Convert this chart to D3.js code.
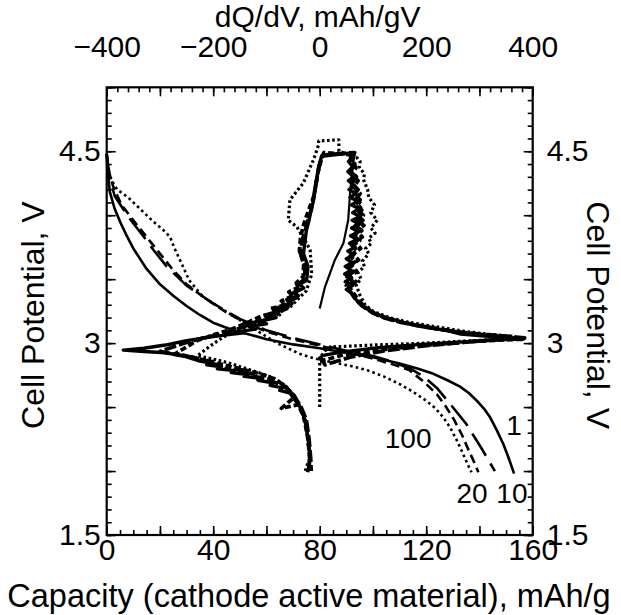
<!DOCTYPE html>
<html><head><meta charset="utf-8">
<script src="https://cdn.jsdelivr.net/npm/d3@7"></script>
<style>body{margin:0;background:#fff}svg{display:block}text{font-family:"Liberation Sans",Arial,sans-serif;fill:#000}</style>
</head><body>
<svg id="c" width="621" height="615"></svg>
<script>
// ---- tick labels ----
const capTicks = [0, 40, 80, 120, 160];
const dqTicks = [-400, -200, 0, 200, 400];
const vTicks = [1.5, 3, 4.5];
const rateLabels = ["1", "10", "20", "100"];
const rateLabelPos = [[153, 2.28], [152.2, 1.75], [137.2, 1.75], [113.2, 2.18]]; // [capacity, V] of label baseline centre

// ---- discharge curves: [capacity mAh/g, cell potential V] ----
const dis1 = [[0,4.48],[0.3,4.35],[1.2,4.18],[3,4.05],[5,3.95],[7.5,3.84],[10,3.74],[15,3.58],[20,3.46],[25,3.37],[30,3.29],[35,3.22],[40,3.16],[47.5,3.1],[55,3.06],[60,3.03],[70,2.99],[80,2.96],[90,2.925],[100,2.89],[110,2.84],[117,2.8],[122.7,2.76],[128,2.71],[132.7,2.66],[136,2.61],[139,2.55],[142,2.48],[144,2.42],[146.5,2.32],[149,2.21],[151,2.1],[153,1.98]];
const dis10 = [[0,4.48],[1,4.3],[3,4.15],[8,3.99],[14,3.83],[17.5,3.73],[22.5,3.6],[30,3.45],[40,3.31],[50,3.19],[60,3.1],[70,3.04],[80,2.99],[90,2.94],[100,2.9],[108,2.85],[114,2.8],[119,2.74],[124,2.65],[128,2.55],[131.5,2.46],[135,2.37],[138,2.27],[141,2.17],[143.5,2.08],[145.8,2.0]];
const dis20 = [[0,4.48],[1,4.33],[2.5,4.22],[5.6,4.08],[10,3.96],[15,3.83],[20,3.7],[25,3.57],[30,3.46],[37,3.35],[45,3.24],[52,3.16],[60,3.09],[70,3.03],[80,2.98],[90,2.93],[100,2.88],[108,2.83],[113.6,2.79],[119,2.7],[124,2.6],[127.5,2.5],[130.5,2.4],[133.5,2.28],[136,2.16],[138,2.07],[139.6,1.99]];
const dis100 = [[0,4.48],[0.5,4.36],[1.9,4.27],[4,4.2],[8,4.14],[12,4.06],[17.5,3.95],[21,3.89],[23.8,3.83],[25.5,3.74],[27.5,3.65],[31,3.49],[36.3,3.36],[43.8,3.26],[50,3.18],[57,3.09],[64,3.0],[72,2.92],[78,2.88],[85,2.85],[92,2.82],[97.6,2.79],[104,2.74],[110,2.68],[115,2.62],[120,2.55],[123.5,2.49],[126.4,2.42],[129,2.34],[131.5,2.24],[133.5,2.15],[135,2.08],[137,1.99]];

// ---- dQ/dV curves: [dQ/dV mAh/gV, cell potential V] ----
const dqThin1 = [[0,3.27],[10,3.44],[28.5,3.65],[44.5,3.78],[53.5,3.96],[57.5,4.2],[62.5,4.4],[66,4.48]];
const dq1 = [[2,2.9],[40,2.93],[110,2.965],[190,2.99],[270,3.01],[330,3.025],[383,3.033],[350,3.045],[310,3.055],[265,3.07],[238,3.1],[205,3.12],[178,3.14],[150,3.17],[125,3.2],[105,3.23],[88,3.27],[75,3.31],[66,3.35],[60,3.39],[50,3.42],[62,3.45],[48,3.48],[60,3.51],[47,3.54],[59,3.57],[48,3.6],[61,3.63],[50,3.66],[64,3.69],[53,3.72],[67,3.75],[56,3.78],[70,3.81],[58,3.84],[73,3.87],[60,3.9],[75,3.93],[61,3.96],[76,3.99],[62,4.02],[74,4.05],[60,4.08],[71,4.11],[57,4.14],[68,4.17],[55,4.2],[66,4.23],[54,4.27],[64,4.3],[53,4.34],[62,4.38],[54,4.42],[63,4.46],[66,4.49],[3.5,4.46],[-2,4.38],[-5,4.3],[-9,4.2],[-12.5,4.1],[-17,4.03],[-20,3.96],[-25,3.88],[-27.5,3.8],[-30.5,3.7],[-22,3.6],[-24.5,3.49],[-38,3.46],[-30,3.43],[-48,3.4],[-40,3.37],[-62,3.34],[-52,3.31],[-78,3.28],[-66,3.26],[-94,3.23],[-82,3.2],[-112,3.17],[-100,3.15],[-132,3.13],[-120,3.11],[-152,3.09],[-142,3.08],[-175,3.065],[-210,3.045],[-250,3.02],[-290,2.985],[-330,2.96],[-369,2.945],[-330,2.935],[-290,2.925],[-256,2.9],[-225,2.86],[-205,2.845],[-212,2.83],[-185,2.815],[-192,2.8],[-160,2.785],[-166,2.77],[-136,2.755],[-142,2.74],[-110,2.725],[-116,2.71],[-88,2.69],[-93,2.67],[-70,2.65],[-75,2.63],[-56,2.61],[-37,2.5],[-27.5,2.4],[-21.5,2.24],[-18,2.1],[-22.5,1.99]];
const dq10 = [[0,2.9],[10,2.83],[57,2.89],[120,2.94],[200,2.98],[280,3.01],[340,3.03],[385,3.04],[350,3.055],[300,3.07],[255,3.09],[215,3.115],[180,3.14],[150,3.165],[120,3.2],[98,3.24],[80,3.29],[68,3.34],[58,3.4],[50,3.45],[63,3.48],[51,3.52],[64,3.56],[54,3.6],[68,3.64],[57,3.68],[71,3.72],[61,3.76],[75,3.8],[64,3.84],[79,3.88],[67,3.92],[81,3.96],[69,4.0],[79,4.04],[66,4.08],[76,4.12],[63,4.16],[72,4.2],[60,4.25],[69,4.3],[58,4.35],[66,4.4],[58,4.45],[62,4.49],[5,4.47],[0,4.4],[-4,4.32],[-8,4.22],[-12,4.12],[-16,4.04],[-22,3.96],[-27,3.88],[-33,3.8],[-36,3.7],[-27,3.6],[-29,3.5],[-42,3.45],[-36,3.42],[-54,3.38],[-46,3.35],[-68,3.31],[-60,3.28],[-86,3.25],[-76,3.22],[-104,3.2],[-128,3.15],[-155,3.11],[-185,3.07],[-220,3.04],[-255,3.0],[-300,2.935],[-270,2.91],[-240,2.89],[-215,2.865],[-195,2.85],[-200,2.835],[-170,2.82],[-176,2.8],[-146,2.79],[-150,2.77],[-120,2.76],[-124,2.74],[-98,2.72],[-90,2.7],[-68,2.67],[-50,2.6],[-35,2.5],[-25,2.4],[-20,2.25],[-17,2.1],[-16,2.0]];
const dq20 = [[0,2.86],[20,2.88],[45,2.91],[120,2.95],[200,2.985],[280,3.01],[340,3.025],[380,3.03],[345,3.05],[305,3.065],[262,3.085],[225,3.11],[190,3.135],[158,3.16],[128,3.19],[104,3.23],[86,3.28],[74,3.33],[64,3.39],[55,3.44],[68,3.48],[56,3.52],[70,3.56],[59,3.61],[73,3.65],[62,3.7],[77,3.74],[66,3.79],[80,3.83],[69,3.88],[83,3.92],[71,3.96],[82,4.0],[70,4.04],[80,4.08],[68,4.12],[76,4.17],[64,4.22],[72,4.27],[61,4.32],[68,4.37],[60,4.42],[64,4.47],[8,4.49],[2,4.42],[-3,4.34],[-7,4.24],[-11,4.15],[-18,4.07],[-26,3.98],[-32,3.9],[-36,3.82],[-38,3.72],[-30,3.62],[-31,3.52],[-44,3.47],[-38,3.44],[-58,3.4],[-50,3.37],[-72,3.33],[-64,3.3],[-92,3.27],[-84,3.24],[-110,3.21],[-136,3.16],[-165,3.11],[-195,3.07],[-230,3.02],[-270,2.92],[-240,2.89],[-210,2.86],[-180,2.83],[-145,2.795],[-112,2.76],[-84,2.72],[-64,2.66],[-47,2.58],[-72,2.49],[-40,2.52],[-30,2.42],[-23,2.28],[-19,2.12],[-20,2.0]];
const dq100 = [[0,2.5],[0,2.7],[0,2.88],[10,2.94],[20,2.97],[100,2.985],[200,3.0],[290,3.02],[350,3.03],[383,3.04],[355,3.055],[315,3.07],[275,3.09],[238,3.115],[200,3.14],[165,3.165],[130,3.2],[100,3.25],[85,3.3],[75,3.38],[68,3.46],[78,3.5],[72,3.55],[84,3.6],[80,3.64],[92,3.7],[86,3.74],[97,3.78],[92,3.82],[104,3.86],[96,3.9],[108,3.96],[96,4.02],[103,4.08],[92,4.14],[90,4.2],[82,4.28],[84,4.32],[74,4.38],[76,4.42],[70,4.45],[36,4.5],[36,4.59],[-2,4.58],[-2,4.55],[-12,4.43],[-31,4.25],[-56,4.12],[-59,3.96],[-43,3.91],[-30,3.82],[-18,3.73],[-15,3.54],[-25,3.41],[-56,3.28],[-90,3.21],[-120,3.15],[-150,3.1],[-180,3.05],[-205,2.98],[-230,2.9],[-205,2.88],[-175,2.85],[-145,2.81],[-115,2.77],[-88,2.73],[-65,2.67],[-48,2.59],[-36,2.5],[-27,2.38],[-22,2.24],[-19,2.1],[-27,2.0]];

// ---- layout ----
const L = 106.7, R = 532.7, T = 87.3, B = 535;
const FONT = '"Liberation Sans",Arial,sans-serif';
const svg = d3.select("#c");
const x = d3.scaleLinear().domain([0, 160]).range([L, R]);
const x2 = d3.scaleLinear().domain([-400, 400]).range([L, R]);
const y = d3.scaleLinear().domain([1.5, 5]).range([B, T]);

const lineCap = d3.line().x(d => x(d[0])).y(d => y(d[1]));
const lineDq = d3.line().x(d => x2(d[0])).y(d => y(d[1]));
const plot = svg.append("g");
function draw(data, gen, w, dash) {
  plot.append("path").attr("d", gen(data)).attr("fill", "none").attr("stroke", "#000")
    .attr("stroke-width", w).attr("stroke-dasharray", dash).attr("stroke-linejoin", "round");
}
draw(dis1, lineCap, 2.6, null);
draw(dis10, lineCap, 2.6, "26,9");
draw(dis20, lineCap, 2.6, "9,5");
draw(dis100, lineCap, 2.6, "2.6,3.2");
draw(dqThin1, lineDq, 2.2, null);
draw(dq1, lineDq, 3.4, null);
draw(dq10, lineDq, 3.8, "12,3");
draw(dq20, lineDq, 3.8, "6,3");
draw(dq100, lineDq, 3.2, "2.6,2.6");

// ---- axes ----
const fs = 30;
function styleAxis(g) { g.select(".domain").remove(); g.selectAll("line").attr("stroke", "#000").attr("stroke-width", 1.6); g.selectAll("text").style("font-size", fs + "px").style("font-family", FONT); }
// bottom
svg.append("g").attr("transform", `translate(0,${B})`).call(d3.axisBottom(x).ticks(32).tickSize(-5).tickFormat("")).call(styleAxis);
svg.append("g").attr("transform", `translate(0,${B})`).call(d3.axisBottom(x).ticks(8).tickSize(-9).tickFormat("")).call(styleAxis);
svg.append("g").attr("transform", `translate(0,${B})`).call(d3.axisBottom(x).tickValues(capTicks).tickSize(0).tickPadding(4)).call(styleAxis);
// top
svg.append("g").attr("transform", `translate(0,${T})`).call(d3.axisTop(x2).ticks(32).tickSize(-5).tickFormat("")).call(styleAxis);
svg.append("g").attr("transform", `translate(0,${T})`).call(d3.axisTop(x2).ticks(8).tickSize(-9).tickFormat("")).call(styleAxis);
svg.append("g").attr("transform", `translate(0,${T})`).call(d3.axisTop(x2).tickValues(dqTicks).tickSize(0).tickPadding(30)).call(styleAxis);
// left
svg.append("g").attr("transform", `translate(${L},0)`).call(d3.axisLeft(y).ticks(35).tickSize(-5).tickFormat("")).call(styleAxis);
svg.append("g").attr("transform", `translate(${L},0)`).call(d3.axisLeft(y).ticks(7).tickSize(-9).tickFormat("")).call(styleAxis);
svg.append("g").attr("transform", `translate(${L},0)`).call(d3.axisLeft(y).tickValues(vTicks).tickSize(0).tickPadding(6).tickFormat(d => d)).call(styleAxis);
// right
svg.append("g").attr("transform", `translate(${R},0)`).call(d3.axisRight(y).ticks(35).tickSize(-5).tickFormat("")).call(styleAxis);
svg.append("g").attr("transform", `translate(${R},0)`).call(d3.axisRight(y).ticks(7).tickSize(-9).tickFormat("")).call(styleAxis);
svg.append("g").attr("transform", `translate(${R},0)`).call(d3.axisRight(y).tickValues(vTicks).tickSize(0).tickPadding(14).tickFormat(d => d)).call(styleAxis);

svg.append("rect").attr("x", L).attr("y", T).attr("width", R - L).attr("height", B - T)
  .attr("fill", "none").attr("stroke", "#000").attr("stroke-width", 2.2);

// ---- titles ----
svg.append("text").attr("x", (L + R) / 2 - 2).attr("y", 27).attr("text-anchor", "middle").style("font-size", "30px").text("dQ/dV, mAh/gV");
svg.append("text").attr("x", 309).attr("y", 607).attr("text-anchor", "middle").style("font-size", "32.5px").text("Capacity (cathode active material), mAh/g");
svg.append("text").attr("transform", `translate(44,${(T + B) / 2 + 4}) rotate(-90)`).attr("text-anchor", "middle").style("font-size", "32px").text("Cell Potential, V");
svg.append("text").attr("transform", `translate(587,${(T + B) / 2 + 4}) rotate(90)`).attr("text-anchor", "middle").style("font-size", "32px").text("Cell Potential, V");

// ---- rate labels ----
svg.selectAll(".rl").data(rateLabels).enter().append("text")
  .attr("x", (d, i) => x(rateLabelPos[i][0])).attr("y", (d, i) => y(rateLabelPos[i][1]))
  .attr("text-anchor", "middle").style("font-size", "28px").text(d => d);
</script>
</body></html>
